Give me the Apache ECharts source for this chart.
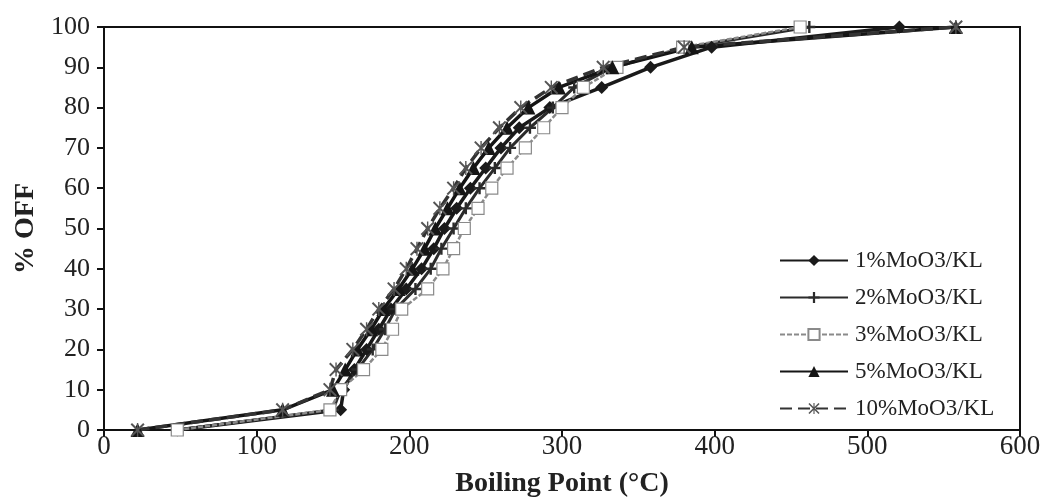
<!DOCTYPE html>
<html>
<head>
<meta charset="utf-8">
<script src="https://cdn.jsdelivr.net/npm/echarts@6/dist/echarts.min.js"></script>
<style>
  html, body { margin: 0; padding: 0; background: #fff; }
  #chart { width: 1050px; height: 501px; }
</style>
</head>
<body>
<div id="chart"></div>
<script>
// Distillation curves: % recovered vs boiling point for each catalyst loading
const percentOff = [0, 5, 10, 15, 20, 25, 30, 35, 40, 45, 50, 55, 60, 65, 70, 75, 80, 85, 90, 95, 100];

const bp1 = [48, 155, 157, 164, 172, 180, 188, 198, 208, 216, 223, 231, 240, 250, 260, 272, 292, 326, 358, 398, 521];
const bp2 = [48, 150, 155, 166, 176, 184, 191, 204, 214, 221, 229, 237, 246, 256, 266, 279, 294, 308, 333, 382, 462];
const bp3 = [48, 148, 155, 170, 182, 189, 195, 212, 222, 229, 236, 245, 254, 264, 276, 288, 300, 314, 336, 379, 456];
const bp5 = [22, 117, 150, 158, 166, 175, 183, 193, 202, 210, 217, 225, 233, 242, 252, 264, 278, 298, 333, 385, 558];
const bp10 = [22, 117, 148, 152, 163, 172, 180, 190, 198, 205, 212, 220, 229, 237, 247, 259, 273, 293, 327, 380, 558];

const seriesNames = ['1%MoO3/KL', '2%MoO3/KL', '3%MoO3/KL', '5%MoO3/KL', '10%MoO3/KL'];

const xTicks = [0, 100, 200, 300, 400, 500, 600];
const yTicks = [0, 10, 20, 30, 40, 50, 60, 70, 80, 90, 100];

const pairs = (temps) => temps.map((t, i) => [t, percentOff[i]]);

const PLUS = 'path://M4,0H6V10H4ZM0,4H10V6H0Z';
const STAR = 'path://M0,1L1,0L5,4L9,0L10,1L6,5L10,9L9,10L5,6L1,10L0,9L4,5ZM4.5,0H5.5V10H4.5Z';
const FONT = 'Liberation Serif';

const chart = echarts.init(document.getElementById('chart'), null, { renderer: 'canvas' });

chart.setOption({
  animation: false,
  backgroundColor: '#ffffff',
  textStyle: { fontFamily: FONT },
  grid: {
    left: 104, right: 30, top: 27, bottom: 71,
    outerBoundsMode: 'none',
    show: true, borderColor: '#111', borderWidth: 2, backgroundColor: 'transparent'
  },
  legend: {
    orient: 'vertical',
    left: 774, top: 244,
    itemWidth: 68, itemHeight: 14, itemGap: 14,
    textStyle: { fontFamily: FONT, fontSize: 23, color: '#222', padding: [0, 0, 0, 2] },
    data: seriesNames
  },
  xAxis: {
    type: 'value',
    min: xTicks[0], max: xTicks[xTicks.length - 1], interval: 100,
    name: 'Boiling Point (°C)',
    nameLocation: 'middle', nameGap: 40,
    nameTextStyle: { fontFamily: FONT, fontSize: 28, fontWeight: 'bold', color: '#222' },
    axisLine: { show: true, lineStyle: { color: '#111', width: 2 } },
    axisTick: { show: true, inside: false, length: 7, lineStyle: { color: '#111', width: 2 } },
    axisLabel: { fontFamily: FONT, fontSize: 27, color: '#222', margin: 3 },
    splitLine: { show: false }
  },
  yAxis: {
    type: 'value',
    min: yTicks[0], max: yTicks[yTicks.length - 1], interval: 10,
    name: '% OFF',
    nameLocation: 'middle', nameGap: 58, nameRotate: 90,
    nameTextStyle: { fontFamily: FONT, fontSize: 28, fontWeight: 'bold', color: '#222' },
    axisLine: { show: true, lineStyle: { color: '#111', width: 2 } },
    axisTick: { show: true, inside: false, length: 7, lineStyle: { color: '#111', width: 2 } },
    axisLabel: { fontFamily: FONT, fontSize: 26, color: '#222', margin: 14 },
    splitLine: { show: false }
  },
  series: [
    {
      name: seriesNames[0], type: 'line', data: pairs(bp1),
      symbol: 'diamond', symbolSize: 13,
      lineStyle: { color: '#1a1a1a', width: 3.5 },
      itemStyle: { color: '#1a1a1a' }
    },
    {
      name: seriesNames[1], type: 'line', data: pairs(bp2),
      symbol: PLUS, symbolSize: 12,
      lineStyle: { color: '#2b2b2b', width: 3 },
      itemStyle: { color: '#2b2b2b' }
    },
    {
      name: seriesNames[2], type: 'line', data: pairs(bp3),
      symbol: 'rect', symbolSize: 12,
      lineStyle: { color: '#8a8a8a', width: 2.5, type: [5, 2] },
      itemStyle: { color: '#ffffff', borderColor: '#8a8a8a', borderWidth: 1.2 }
    },
    {
      name: seriesNames[3], type: 'line', data: pairs(bp5),
      symbol: 'triangle', symbolSize: 14,
      lineStyle: { color: '#151515', width: 3.5 },
      itemStyle: { color: '#151515' }
    },
    {
      name: seriesNames[4], type: 'line', data: pairs(bp10),
      symbol: STAR, symbolSize: 14,
      lineStyle: { color: '#333333', width: 3.5, type: [12, 6] },
      itemStyle: { color: '#555555' }
    }
  ]
});
</script>
</body>
</html>
